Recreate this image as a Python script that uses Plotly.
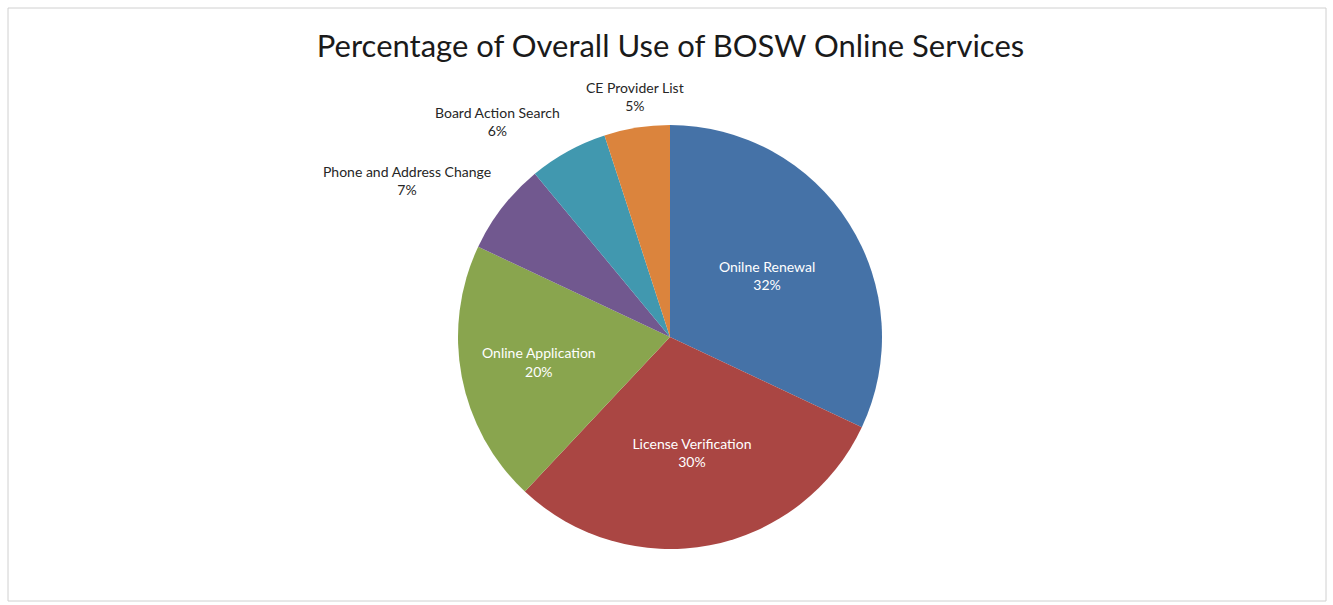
import math
import plotly.graph_objects as go

# Share of overall use per online service (percent)
services = [
    "Onilne Renewal",
    "License Verification",
    "Online Application",
    "Phone and Address Change",
    "Board Action Search",
    "CE Provider List",
]
shares = [32, 30, 20, 7, 6, 5]
slice_colors = ["#4572A7", "#AA4643", "#89A54E", "#71588F", "#4198AF", "#DB843D"]
# Large slices carry their label inside; small ones get an outside callout
inside = [True, True, True, False, False, False]

W, H = 1333, 605
cx, cy, r = 670, 337, 212
FONT = "Lato, Open Sans, sans-serif"
LABEL_SIZE = 14

fig = go.Figure(
    go.Pie(
        labels=services,
        values=shares,
        sort=False,
        direction="clockwise",
        rotation=0,
        marker=dict(colors=slice_colors, line=dict(width=0)),
        text=[f"{s}<br>{v}%" if ins else "" for s, v, ins in zip(services, shares, inside)],
        textinfo="text",
        textposition="inside",
        insidetextorientation="horizontal",
        textfont=dict(family=FONT, size=LABEL_SIZE, color="white"),
        showlegend=False,
        hoverinfo="label+percent",
        domain=dict(
            x=[(cx - r) / W, (cx + r) / W],
            y=[1 - (cy + r) / H, 1 - (cy - r) / H],
        ),
    )
)


def side(v, neg, mid, pos):
    if v < -0.3:
        return neg
    if v > 0.3:
        return pos
    return mid


# Outside callouts: anchored just beyond the rim on each slice's mid-angle,
# with the label box hanging away from the pie.
total = sum(shares)
cum = 0.0
annotations = []
for name, val, ins in zip(services, shares, inside):
    mid = (cum + val / 2) / total * 2 * math.pi
    cum += val
    if ins:
        continue
    sx, sy = math.sin(mid), -math.cos(mid)
    d = r + 12
    px, py = cx + d * sx, cy + d * sy
    annotations.append(
        dict(
            x=px / W,
            y=1 - py / H,
            xref="paper",
            yref="paper",
            xanchor=side(sx, "right", "center", "left"),
            yanchor=side(sy, "bottom", "middle", "top"),
            showarrow=False,
            align="center",
            text=f"{name}<br>{val}%",
            font=dict(family=FONT, size=LABEL_SIZE, color="#262626"),
        )
    )

fig.update_layout(
    width=W,
    height=H,
    margin=dict(l=0, r=0, t=0, b=0),
    paper_bgcolor="white",
    title=dict(
        text="Percentage of Overall Use of BOSW Online Services",
        x=0.503,
        xanchor="center",
        y=1 - 46 / H,
        yanchor="middle",
        font=dict(family=FONT, size=31, color="#1a1a1a"),
    ),
    annotations=annotations,
    shapes=[
        dict(
            type="rect",
            xref="paper",
            yref="paper",
            x0=8 / W,
            x1=1326 / W,
            y0=1 - 601 / H,
            y1=1 - 8 / H,
            line=dict(color="#d0d0d0", width=1),
        )
    ],
)

fig.write_html("out.html")
